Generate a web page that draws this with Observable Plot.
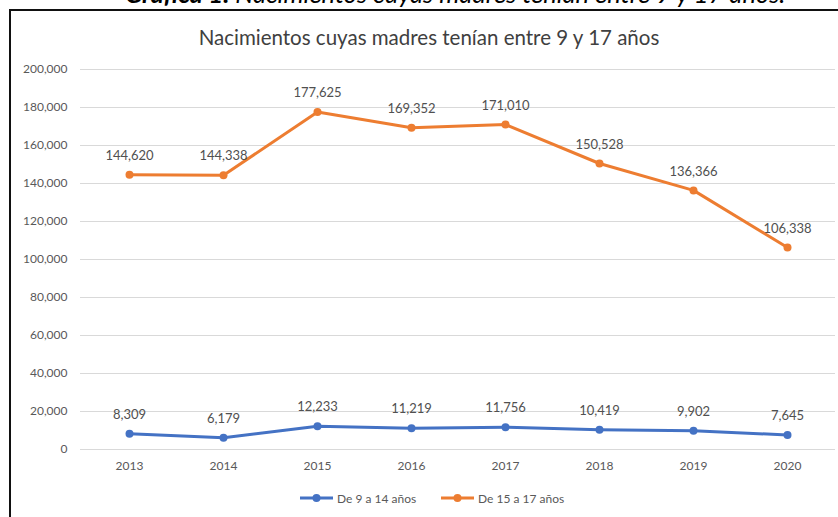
<!DOCTYPE html>
<html>
<head>
<meta charset="utf-8">
<script src="https://cdn.jsdelivr.net/npm/d3@7"></script>
<script src="https://cdn.jsdelivr.net/npm/@observablehq/plot@0.6"></script>
<style>
  html, body { margin: 0; padding: 0; background: #fff; }
  body { width: 838px; height: 517px; position: relative; overflow: hidden; font-family: Lato, "Open Sans", sans-serif; }
  #heading { position: absolute; left: 0; top: 0; width: 838px; height: 9px; overflow: hidden; }
  #heading span.t { position: absolute; left: 125px; top: -19px; font-size: 25.5px; line-height: 25px; font-style: italic; color: #000; white-space: nowrap; font-family: Lato, sans-serif; }
  #frame { position: absolute; left: 9px; top: 9px; width: 900px; height: 600px; border-left: 2px solid #111; border-top: 2px solid #111; box-sizing: border-box; pointer-events: none; }
  #title { position: absolute; left: 10px; width: 838px; top: 25px; text-align: center; font-size: 20.5px; color: #404040; font-family: Lato, sans-serif; }
  #chart { position: absolute; left: 0; top: 0; }
  #legend { position: absolute; top: 489px; left: 0; width: 838px; height: 18px; font-size: 12px; color: #595959; }
  .item { position: absolute; top: 0; display: flex; align-items: center; height: 18px; }
  .item svg { margin-right: 4px; }
</style>
</head>
<body>
<div id="heading"><span class="t"><b>Gráfica 1.</b> Nacimientos cuyas madres tenían entre 9 y 17 años.</span></div>
<div id="chart"></div>
<div id="frame"></div>
<div id="title">Nacimientos cuyas madres tenían entre 9 y 17 años</div>
<div id="legend"></div>
<script>
const years = ["2013", "2014", "2015", "2016", "2017", "2018", "2019", "2020"];
const seriesNames = ["De 9 a 14 años", "De 15 a 17 años"];
const seriesColors = ["#4472C4", "#ED7D31"];
const young = [8309, 6179, 12233, 11219, 11756, 10419, 9902, 7645];
const teen = [144620, 144338, 177625, 169352, 171010, 150528, 136366, 106338];
const yTicks = [0, 20000, 40000, 60000, 80000, 100000, 120000, 140000, 160000, 180000, 200000];

const data = [];
years.forEach((y, i) => data.push({year: y, value: young[i], series: seriesNames[0]}));
years.forEach((y, i) => data.push({year: y, value: teen[i], series: seriesNames[1]}));

const fmt = d3.format(",");
const color = {domain: seriesNames, range: seriesColors};

const chart = Plot.plot({
  width: 838,
  height: 517,
  marginLeft: 80,
  marginRight: 3,
  marginTop: 69,
  marginBottom: 68,
  style: {fontFamily: "Lato, sans-serif", fontSize: "12px", color: "#595959", background: "transparent"},
  x: {type: "point", domain: years, padding: 0.5},
  y: {domain: [0, 200000]},
  color,
  marks: [
    Plot.gridY(yTicks, {stroke: "#d9d9d9", strokeOpacity: 1, strokeWidth: 1}),
    Plot.axisY(yTicks, {tickSize: 0, tickPadding: 13, tickFormat: fmt, label: null, fill: "#595959"}),
    Plot.axisX(years, {tickSize: 0, tickPadding: 12, label: null, fill: "#595959"}),
    Plot.line(data, {x: "year", y: "value", z: "series", stroke: "series", strokeWidth: 3, strokeLinejoin: "round", strokeLinecap: "round"}),
    Plot.dot(data, {x: "year", y: "value", fill: "series", r: 4}),
    Plot.text(data, {x: "year", y: "value", text: d => fmt(d.value), dy: -19, fill: "#505050", fontSize: 13})
  ]
});
document.getElementById("chart").appendChild(chart);

const legend = document.getElementById("legend");
const lx = [300, 441];
seriesNames.forEach((name, i) => {
  const item = document.createElement("div");
  item.className = "item";
  item.style.left = lx[i] + "px";
  item.innerHTML = `<svg width="33" height="10"><line x1="0" y1="5" x2="33" y2="5" stroke="${seriesColors[i]}" stroke-width="3"/><circle cx="16.5" cy="5" r="4" fill="${seriesColors[i]}"/></svg><span>${name}</span>`;
  legend.appendChild(item);
});
</script>
</body>
</html>
